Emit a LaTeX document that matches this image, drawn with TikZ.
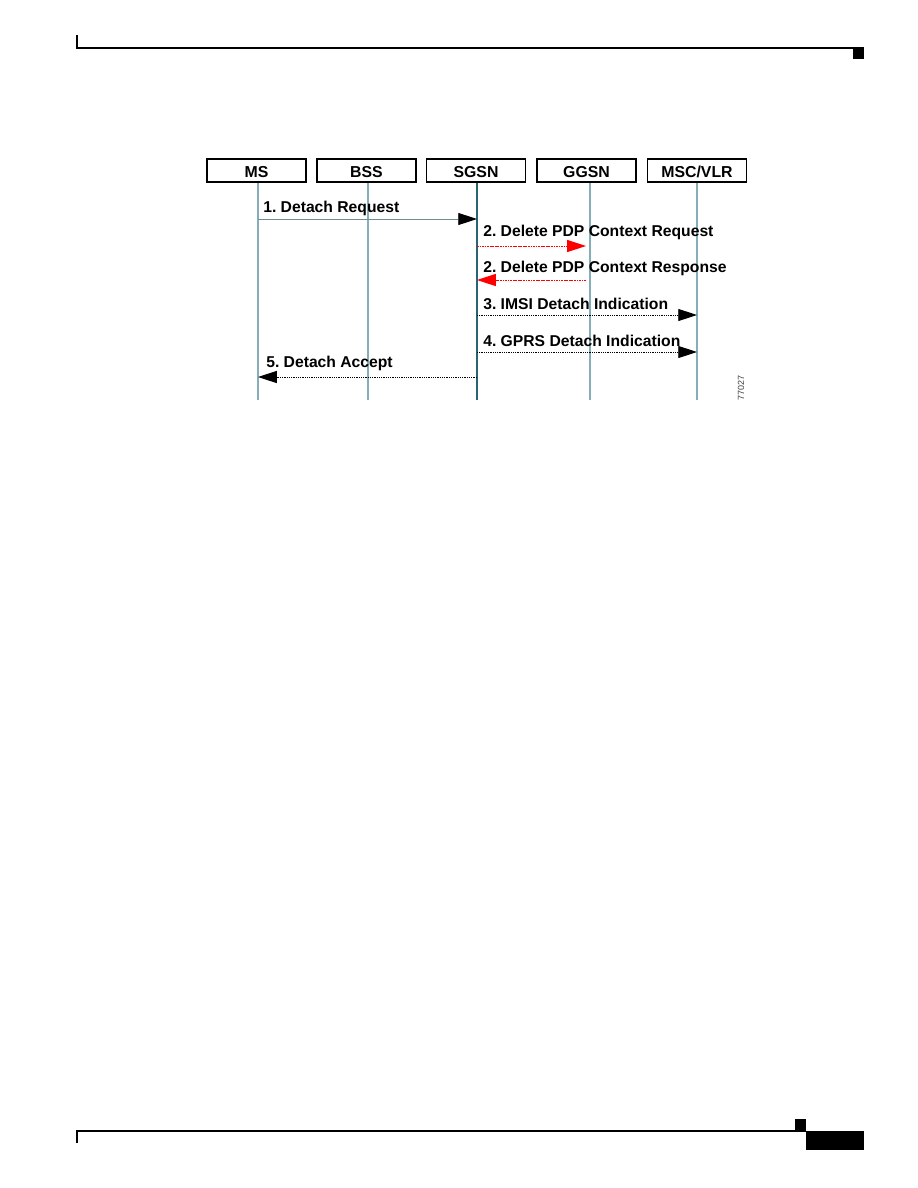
\documentclass[tikz,border=0pt]{standalone}
\usepackage{fontspec}
\setmainfont{Liberation Sans}
\usepackage{xcolor}
\usepackage{tikz}
\usetikzlibrary{arrows.meta,positioning}
\definecolor{lifeln}{HTML}{86AEB8}
\definecolor{sgsnln}{HTML}{2A6470}
\definecolor{reqln}{HTML}{6F8F92}
\definecolor{figno}{HTML}{404040}
\frenchspacing

\begin{document}
\begin{tikzpicture}[x=0.6667bp,y=-0.6667bp,
  ent/.style={draw=black,line width=1.1bp,minimum width=66bp,minimum height=15.3bp,
              inner sep=0pt,text height=9.6bp,text depth=0pt,
              font=\fontsize{10.6}{12}\selectfont\bfseries},
  lbl/.style={anchor=base west,inner sep=0pt,font=\fontsize{10.5}{12}\selectfont\bfseries},
  life/.style={lifeln,line width=0.7bp},
  tip/.style={-{Triangle[length=12.5bp,width=8bp]}},
  req/.style={-{Triangle[length=12.5bp,width=8bp,black]},reqln,line width=0.6bp},
  dotmsg/.style={tip,black,line width=0.6bp,dash pattern=on 0.6bp off 0.6bp},
  redmsg/.style={tip,red,line width=0.6bp,dash pattern=on 1.2bp off 0.5bp}]

\useasboundingbox (0,0) rectangle (918,1188);

% page header and footer
\draw[line width=0.8bp] (77,35) -- (77,48) -- (864,48);
\fill (853,48) rectangle (864,59);
\draw[line width=0.8bp] (77,1143) -- (77,1131) -- (806,1131);
\fill (795,1119) rectangle (806,1130);
\fill (806,1131) rectangle (864,1150);

% entities
\node[ent] (ms) at (256.5,170.5) {MS};
\node[ent] (bss) at (366.5,170.5) {BSS};
\node[ent] (sgsn) at (476,170.5) {SGSN};
\node[ent] (ggsn) at (586.5,170.5) {GGSN};
\node[ent] (msc) at (697,170.5) {MSC/VLR};

% lifelines
\coordinate (ms-end) at (258,400);
\coordinate (bss-end) at (368,400);
\coordinate (sgsn-end) at (477,400);
\coordinate (ggsn-end) at (590,400);
\coordinate (msc-end) at (697,400);
\draw[life] (ms.south -| ms-end) -- (ms-end);
\draw[life] (bss.south -| bss-end) -- (bss-end);
\draw[life,sgsnln] (sgsn.south -| sgsn-end) -- (sgsn-end);
\draw[life] (ggsn.south -| ggsn-end) -- (ggsn-end);
\draw[life] (msc.south -| msc-end) -- (msc-end);

% messages
\node[lbl] (m1) at (263,212) {1. Detach Request};
\draw[req] (ms-end |- 0,219) -- (sgsn-end |- 0,219);

\node[lbl] (m2) at (483,236) {2. Delete PDP Context Request};
\draw[redmsg,shorten >=2.7bp] (sgsn-end |- 0,246) -- (ggsn-end |- 0,246);

\node[lbl] (m3) at (483,272) {2. Delete PDP Context Response};
\draw[redmsg,shorten <=2.7bp] (ggsn-end |- 0,280) -- (sgsn-end |- 0,280);

\node[lbl] (m4) at (483,309) {3. IMSI Detach Indication};
\draw[dotmsg] (sgsn-end |- 0,315) -- (msc-end |- 0,315);

\node[lbl] (m5) at (483,346) {4. GPRS Detach Indication};
\draw[dotmsg] (sgsn-end |- 0,352) -- (msc-end |- 0,352);

\node[lbl] (m6) at (266,367) {5. Detach Accept};
\draw[dotmsg] (sgsn-end |- 0,377) -- (ms-end |- 0,377);

\node[rotate=90,inner sep=0pt,text=figno,font=\fontsize{6}{7}\selectfont] (fig) at (741,388) {77027};
\end{tikzpicture}
\end{document}
